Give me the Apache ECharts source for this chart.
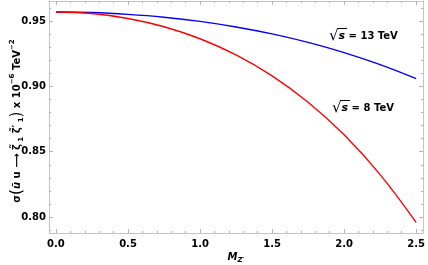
<!DOCTYPE html>
<html>
<head>
<meta charset="utf-8">
<script src="https://cdn.jsdelivr.net/npm/echarts@6/dist/echarts.min.js"></script>
<style>html,body{margin:0;padding:0;background:#fff;}#c{width:428px;height:265px;}</style>
</head>
<body>
<div id="c"></div>
<script>
// Data
const mValues = [0, 0.25, 0.5, 0.75, 1.0, 1.25, 1.5, 1.75, 2.0, 2.25, 2.5];
const sigma13TeV = [0.9569, 0.9565, 0.9551, 0.9529, 0.9497, 0.9454, 0.9401, 0.9336, 0.9258, 0.9166, 0.9059];
const sigma8TeV = [0.9569, 0.9557, 0.9519, 0.9456, 0.9364, 0.9240, 0.9080, 0.8878, 0.8629, 0.8325, 0.7959];
const xMajorTicks = [0, 0.5, 1.0, 1.5, 2.0, 2.5];
const xMinorTicks = [0.1,0.2,0.3,0.4,0.6,0.7,0.8,0.9,1.1,1.2,1.3,1.4,1.6,1.7,1.8,1.9,2.1,2.2,2.3,2.4];
const yMajorTicks = [0.80, 0.85, 0.90, 0.95];
const yMinorTicks = [0.79,0.81,0.82,0.83,0.84,0.86,0.87,0.88,0.89,0.91,0.92,0.93,0.94,0.96];
const label13 = '13 TeV';
const label8 = '8 TeV';

const xMin = -0.0483, xMax = 2.548;
const yMin = 0.7878, yMax = 0.9653;
const FONT = 'DejaVu Sans';
const lineCol = '#c4c4c4';
const tickCol = '#b4b4b4';

function pair(arrX, arrY){ return arrX.map((x,i)=>[x, arrY[i]]); }

function xAx(pos, ticks, len, showLine, showLabel){
  return {
    type:'value', position:pos, min:xMin, max:xMax, gridIndex:0,
    axisLine:{show:showLine, onZero:false, lineStyle:{color:lineCol, width:1}},
    axisTick:{show:true, inside:true, length:len, customValues:ticks, lineStyle:{color:tickCol, width:1}},
    axisLabel:{show:showLabel, customValues:ticks, margin:6, color:'#000', fontFamily:FONT, fontWeight:'bold', fontSize:10,
      formatter:v=>v.toFixed(1)},
    splitLine:{show:false}
  };
}
function yAx(pos, ticks, len, showLine, showLabel){
  return {
    type:'value', position:pos, min:yMin, max:yMax, gridIndex:0,
    axisLine:{show:showLine, onZero:false, lineStyle:{color:lineCol, width:1}},
    axisTick:{show:true, inside:true, length:len, customValues:ticks, lineStyle:{color:tickCol, width:1}},
    axisLabel:{show:showLabel, customValues:ticks, margin:3, color:'#000', fontFamily:FONT, fontWeight:'bold', fontSize:10,
      formatter:v=>v.toFixed(2)},
    splitLine:{show:false}
  };
}

const chart = echarts.init(document.getElementById('c'), null, {renderer:'canvas'});
const option = {
  animation:false,
  backgroundColor:'#fff',
  grid:{left:49, right:3, top:1, bottom:32, containLabel:false},
  xAxis:[
    xAx('bottom', xMajorTicks, 4, true, true),
    xAx('bottom', xMinorTicks, 2, false, false),
    xAx('top', xMajorTicks, 4, true, false),
    xAx('top', xMinorTicks, 2, false, false)
  ],
  yAxis:[
    yAx('left', yMajorTicks, 4, true, true),
    yAx('left', yMinorTicks, 2, false, false),
    yAx('right', yMajorTicks, 4, true, false),
    yAx('right', yMinorTicks, 2, false, false)
  ],
  series:[
    {type:'line', xAxisIndex:0, yAxisIndex:0, data:pair(mValues, sigma13TeV), smooth:0.4, showSymbol:false,
     lineStyle:{color:'#0000ff', width:1.4}},
    {type:'line', xAxisIndex:0, yAxisIndex:0, data:pair(mValues, sigma8TeV), smooth:0.4, showSymbol:false,
     lineStyle:{color:'#ff0000', width:1.4}}
  ],
  graphic:[
    {type:'text', x:17, y:121, rotation:Math.PI/2,
     style:{
       text:'{t|σ}{p|(}{i|ū}{t| u ⟶ ζ̃}{sb| 1}{t| ζ̃\u2032}{sb| 1}{p|)}{t| x 10}{sp|−6}{t| TeV}{sp|−2}',
       align:'center', verticalAlign:'middle',
       rich:{
         t:{fontFamily:FONT, fontWeight:'bold', fontSize:10, fill:'#000', lineHeight:16},
         i:{fontFamily:FONT, fontWeight:'bold', fontStyle:'italic', fontSize:10, fill:'#000', lineHeight:16},
         p:{fontFamily:FONT, fontSize:15, fill:'#000', lineHeight:16},
         sb:{fontFamily:FONT, fontWeight:'bold', fontSize:7, fill:'#000', verticalAlign:'bottom', lineHeight:16},
         sp:{fontFamily:FONT, fontWeight:'bold', fontSize:7, fill:'#000', verticalAlign:'top', lineHeight:16}
       }
     }},
    {type:'text', x:236, y:257,
     style:{
       text:'{m|M}{s|Z\u2032}',
       align:'center', verticalAlign:'middle',
       rich:{
         m:{fontFamily:FONT, fontWeight:'bold', fontStyle:'italic', fontSize:10, fill:'#000', lineHeight:14},
         s:{fontFamily:FONT, fontWeight:'bold', fontStyle:'italic', fontSize:7, fill:'#000', verticalAlign:'bottom', lineHeight:14}
       }
     }},
    {type:'text', x:329, y:36,
     style:{text:'{r|√}{s|s}{t| = ' + label13 + '}', align:'left', verticalAlign:'middle',
       rich:{
         r:{fontFamily:FONT, fontSize:15, fill:'#000'},
         s:{fontFamily:FONT, fontWeight:'bold', fontStyle:'italic', fontSize:11, fill:'#000'},
         t:{fontFamily:FONT, fontWeight:'bold', fontSize:10, fill:'#000'}
       }}},
    {type:'line', shape:{x1:337, y1:28.5, x2:347, y2:28.5}, style:{stroke:'#000', lineWidth:1}},
    {type:'text', x:332, y:108,
     style:{text:'{r|√}{s|s}{t| = ' + label8 + '}', align:'left', verticalAlign:'middle',
       rich:{
         r:{fontFamily:FONT, fontSize:15, fill:'#000'},
         s:{fontFamily:FONT, fontWeight:'bold', fontStyle:'italic', fontSize:11, fill:'#000'},
         t:{fontFamily:FONT, fontWeight:'bold', fontSize:10, fill:'#000'}
       }}},
    {type:'line', shape:{x1:340, y1:100.5, x2:350, y2:100.5}, style:{stroke:'#000', lineWidth:1}}
  ]
};
chart.setOption(option);
</script>
</body>
</html>
